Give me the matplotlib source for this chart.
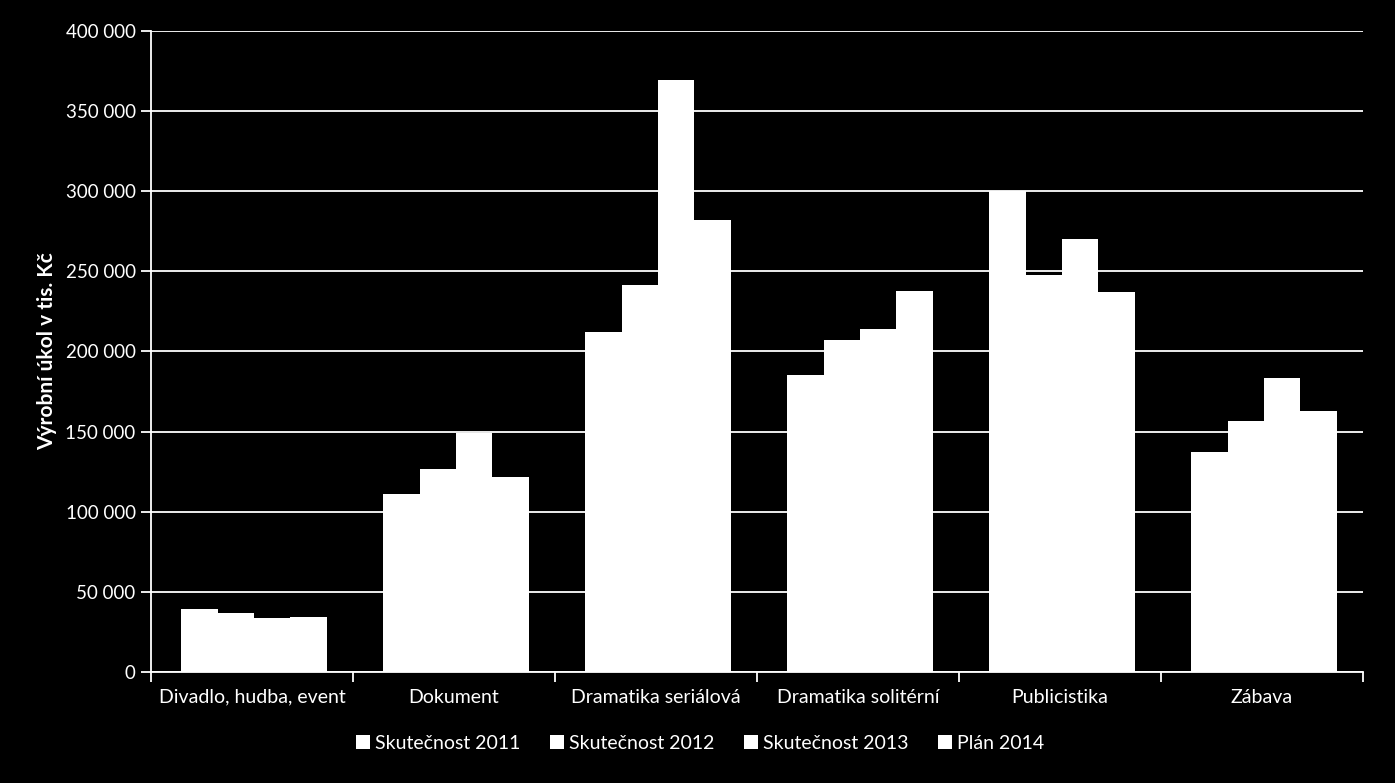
import matplotlib.pyplot as plt
import numpy as np
from matplotlib.ticker import FuncFormatter

categories = ['Divadlo, hudba, event', 'Dokument', 'Dramatika seriálová',
              'Dramatika solitérní', 'Publicistika', 'Zábava']
series_names = ['Skutečnost 2011', 'Skutečnost 2012', 'Skutečnost 2013', 'Plán 2014']

skutecnost_2011 = [39200, 111200, 211900, 185600, 300300, 137500]
skutecnost_2012 = [36700, 126900, 241200, 206900, 247500, 156900]
skutecnost_2013 = [33600, 149400, 369400, 213800, 270000, 183700]
plan_2014 = [34400, 121900, 281900, 237500, 236900, 163100]

series = [skutecnost_2011, skutecnost_2012, skutecnost_2013, plan_2014]

plt.rcParams['font.family'] = ['Lato', 'DejaVu Sans']

fig = plt.figure(figsize=(13.95, 7.83), dpi=100, facecolor='black')
ax = fig.add_axes([0.1082, 0.1418, 0.977 - 0.1082, 0.9604 - 0.1418])
ax.set_facecolor('black')

x = np.arange(len(categories))
w = 0.18
for i, (name, vals) in enumerate(zip(series_names, series)):
    ax.bar(x + (i - 1.5) * w + 0.01, vals, width=w, color='white', edgecolor='none',
           label=name, zorder=3)

ax.set_xlim(-0.5, len(categories) - 0.5)
ax.set_ylim(0, 400000)
ax.set_yticks(np.arange(0, 400001, 50000))
ax.yaxis.set_major_formatter(FuncFormatter(lambda v, p: f'{int(v):,}'.replace(',', ' ')))
ax.grid(axis='y', color='white', linewidth=1.3, zorder=0)

# category labels centered, tick marks at boundaries
ax.set_xticks(np.arange(-0.5, len(categories), 1.0))
ax.set_xticklabels([])
ax.set_xticks(x, minor=True)
ax.set_xticklabels(categories, minor=True)
ax.tick_params(axis='x', which='minor', length=0, pad=12, colors='white', labelsize=14)
ax.tick_params(axis='x', which='major', length=7, color='white', width=1.3)
ax.tick_params(axis='y', length=7, color='white', width=1.3, colors='white', labelsize=13.5, pad=4)

for s in ['top', 'right']:
    ax.spines[s].set_visible(False)
for s in ['left', 'bottom']:
    ax.spines[s].set_color('white')
    ax.spines[s].set_linewidth(1.3)

ax.set_ylabel('Výrobní úkol v tis. Kč', color='white', fontsize=15, fontweight='bold', labelpad=6)

leg = fig.legend(*ax.get_legend_handles_labels(), loc='center', bbox_to_anchor=(0.502, 0.051),
                 ncol=4, frameon=False, handlelength=0.7, handleheight=0.7, handletextpad=0.3,
                 columnspacing=1.5, fontsize=14)
for t in leg.get_texts():
    t.set_color('white')

fig.savefig('out.png', dpi=100, facecolor='black')
